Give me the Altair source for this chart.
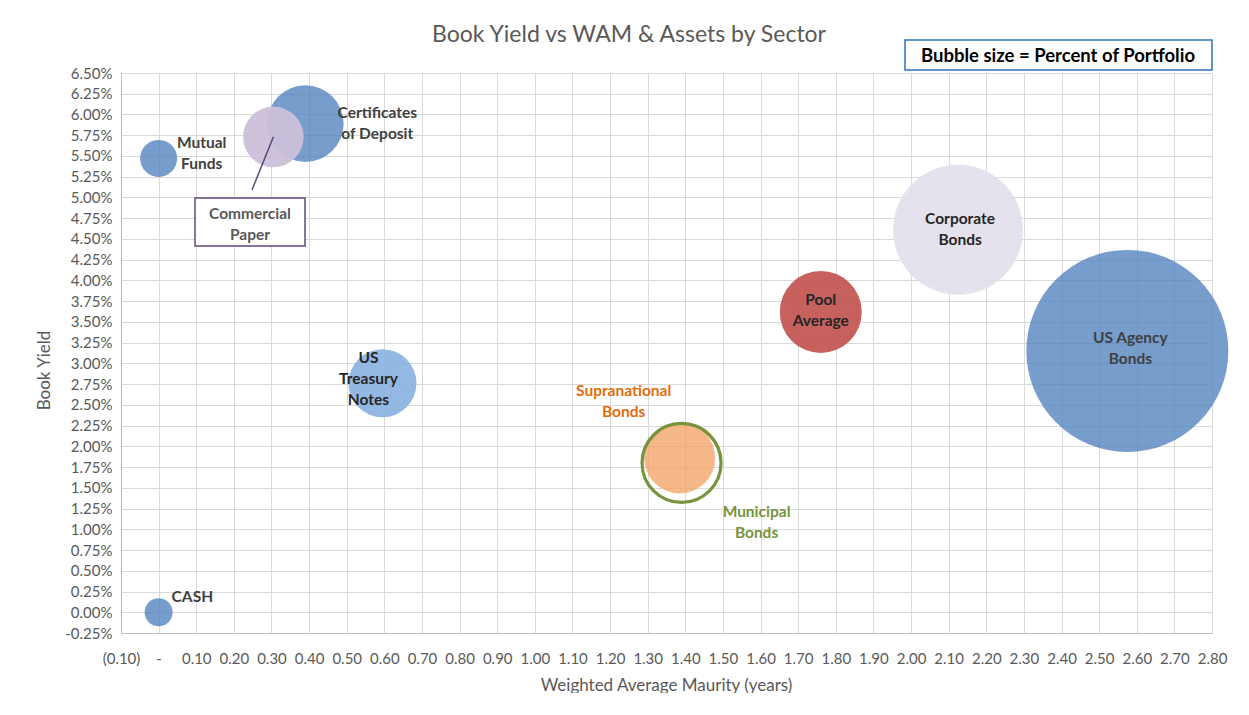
import altair as alt
import pandas as pd

# ---- data ----
sectors = ["CASH", "Mutual Funds", "Certificates of Deposit", "Commercial Paper",
           "US Treasury Notes", "Supranational Bonds", "Municipal Bonds",
           "Pool Average", "Corporate Bonds", "US Agency Bonds"]
wam = [0.00, 0.00, 0.39, 0.305, 0.595, 1.385, 1.39, 1.76, 2.125, 2.575]
book_yield = [0.0000, 0.0547, 0.0589, 0.0573, 0.0276, 0.0186, 0.0180, 0.0362, 0.0461, 0.0315]
pct_portfolio = [0.92, 1.61, 6.90, 4.32, 5.44, 5.93, 7.34, 7.91, 19.88, 48.0]
labels = ["CASH", "Mutual\nFunds", "Certificates\nof Deposit", "Commercial\nPaper",
          "US\nTreasury\nNotes", "Supranational\nBonds", "Municipal\nBonds",
          "Pool\nAverage", "Corporate\nBonds", "US Agency\nBonds"]

chart_title = "Book Yield vs WAM & Assets by Sector"
size_note = "Bubble size = Percent of Portfolio"

df = pd.DataFrame({"sector": sectors, "wam": wam, "yield": book_yield,
                   "pct": pct_portfolio, "label": labels})

FONT = "Lato"
GRAY = "#595959"
LABEL_SIZE = 15.5

# ---- styles ----
fill_colors = {
    "CASH": "rgba(79,129,189,0.78)",
    "Mutual Funds": "rgba(79,129,189,0.78)",
    "Certificates of Deposit": "rgba(79,129,189,0.78)",
    "Commercial Paper": "rgba(204,192,218,0.95)",
    "US Treasury Notes": "rgba(141,180,226,0.95)",
    "Supranational Bonds": "rgba(244,160,98,0.75)",
    "Municipal Bonds": "rgba(255,255,255,0)",
    "Pool Average": "rgba(192,80,77,0.9)",
    "Corporate Bonds": "rgba(228,223,236,0.92)",
    "US Agency Bonds": "rgba(79,129,189,0.78)",
}
# label style: dx, dy (of first line), align, color
label_style = {
    "CASH": (13, -15, "left", "#404040"),
    "Mutual Funds": (43, -15.5, "center", "#404040"),
    "Certificates of Deposit": (72, -10.5, "center", "#404040"),
    "US Treasury Notes": (-14, -25, "center", "#262626"),
    "Supranational Bonds": (-56, -66.5, "center", "#E46C0A"),
    "Municipal Bonds": (75, 49.5, "center", "#77933C"),
    "Pool Average": (0, -11.5, "center", "#262626"),
    "Corporate Bonds": (2, -10.5, "center", "#262626"),
    "US Agency Bonds": (3, -12.5, "center", "#404040"),
}

x_ticks = [round(-0.1 + i * 0.1, 2) for i in range(30)]
y_ticks = [round(-0.0025 + i * 0.0025, 4) for i in range(28)]

x_enc = alt.X("wam:Q",
              scale=alt.Scale(domain=[-0.1, 2.8], nice=False, zero=False),
              axis=alt.Axis(values=x_ticks,
                            labelExpr="datum.value < -0.001 ? '(' + format(-datum.value, '.2f') + ')' : (abs(datum.value) < 0.001 ? '-' : format(datum.value, '.2f'))",
                            title="Weighted Average Maurity (years)",
                            titleX=545, titleY=52, titleBaseline="middle",
                            labelPadding=18, ticks=False, labelOverlap=False,
                            labelFlush=False))
y_enc = alt.Y("yield:Q",
              scale=alt.Scale(domain=[-0.0025, 0.065], nice=False, zero=False),
              axis=alt.Axis(values=y_ticks,
                            labelExpr="replace(format(datum.value, '.2%'), '\u2212', '-')",
                            title="Book Yield",
                            titleX=-77, titleY=297, titleBaseline="middle",
                            titleAlign="center",
                            labelPadding=9, ticks=False, labelOverlap=False))
size_enc = alt.Size("pct:Q", scale=alt.Scale(domain=[0, 48], range=[0, 40804]),
                    legend=None)

base = alt.Chart(df)

bubbles = base.transform_filter(alt.datum.sector != "Municipal Bonds").mark_circle(
    opacity=1).encode(
    x=x_enc, y=y_enc, size=size_enc,
    color=alt.Color("sector:N",
                    scale=alt.Scale(domain=list(fill_colors.keys()),
                                    range=list(fill_colors.values())),
                    legend=None))

ring = base.transform_filter(alt.datum.sector == "Municipal Bonds").mark_point(
    filled=False, shape="circle", strokeWidth=3.2, color="#77933C", opacity=1).encode(
    x=x_enc, y=y_enc, size=size_enc)

leader = base.transform_filter(alt.datum.sector == "Commercial Paper").mark_rule(
    color="#604A7B", strokeWidth=1.5).encode(
    x=x_enc, y=y_enc, x2=alt.value(131), y2=alt.value(117))

cp_box = base.transform_filter(alt.datum.sector == "Commercial Paper").mark_rect(
    fill="white", stroke="#604A7B", strokeWidth=1.5).encode(
    x=alt.value(74), x2=alt.value(184), y=alt.value(125), y2=alt.value(173))

cp_text = base.transform_filter(alt.datum.sector == "Commercial Paper").mark_text(
    font=FONT, fontSize=LABEL_SIZE, fontWeight="bold", color=GRAY, lineBreak="\n",
    lineHeight=21, align="center", baseline="middle").encode(
    x=alt.value(129), y=alt.value(141), text="label:N")

label_layers = []
for name, (dx, dy, align, col) in label_style.items():
    label_layers.append(
        base.transform_filter(alt.datum.sector == name).mark_text(
            font=FONT, fontSize=LABEL_SIZE, fontWeight="bold", color=col, lineBreak="\n",
            lineHeight=21, align=align, baseline="middle", dx=dx, dy=dy).encode(
            x=x_enc, y=y_enc, text="label:N"))

one_row = base.transform_filter(alt.datum.sector == "CASH")

legend_box = one_row.mark_rect(
    fill="white", stroke="#2E75B6", strokeWidth=1.5).encode(
    x=alt.value(784), x2=alt.value(1091), y=alt.value(-33), y2=alt.value(-3))
legend_text = one_row.mark_text(
    font=FONT, fontSize=18.5, fontWeight="bold", color="#000000",
    align="center", baseline="middle", text=size_note).encode(
    x=alt.value(937), y=alt.value(-17))

title_text = one_row.mark_text(
    font=FONT, fontSize=23, fontWeight="normal", color=GRAY,
    align="center", baseline="middle", text=chart_title).encode(
    x=alt.value(508), y=alt.value(-38))

chart = alt.layer(bubbles, ring, leader, cp_box, cp_text, *label_layers,
                  legend_box, legend_text, title_text).properties(
    width=1091, height=560,
    autosize=alt.AutoSizeParams(type="none"),
    padding={"left": 113, "top": 65, "right": 25, "bottom": 60},
).configure_view(stroke="#D9D9D9", strokeWidth=1).configure_axis(
    labelFont=FONT, labelFontSize=15, labelColor=GRAY,
    titleFont=FONT, titleFontSize=17, titleColor=GRAY, titleFontWeight="normal",
    gridColor="#D9D9D9", gridWidth=1, domainColor="#BFBFBF", domainWidth=1)

chart.save("out.html", embed_options={"renderer": "svg", "actions": False})
